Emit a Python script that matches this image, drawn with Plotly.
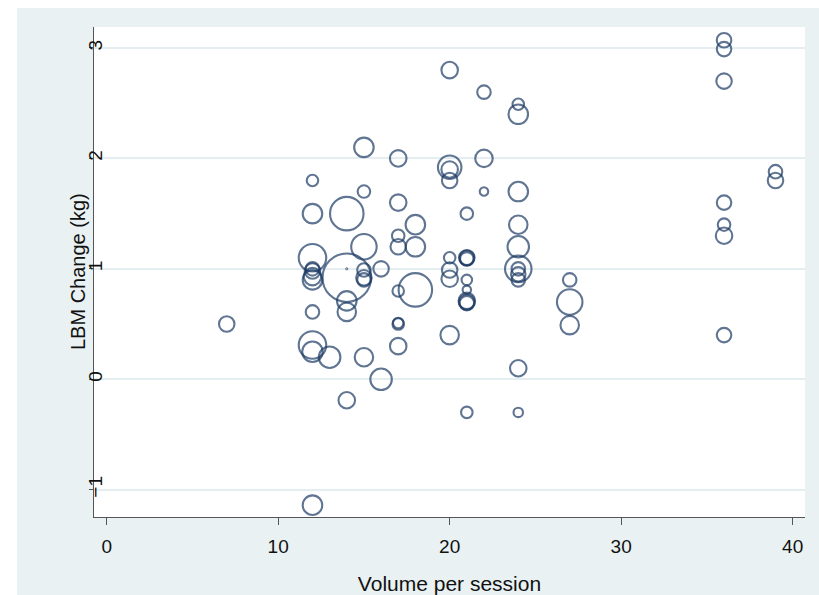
import numpy as np
import plotly.graph_objects as go

# ---- data ----
volume = [7,
          12, 12, 12, 12, 12, 12, 12, 12, 12, 12, 12,
          13,
          14, 14, 14, 14, 14, 14,
          15, 15, 15, 15, 15, 15, 15,
          16, 16,
          17, 17, 17, 17, 17, 17, 17, 17,
          18, 18, 18,
          20, 20, 20, 20, 20, 20, 20, 20,
          21, 21, 21, 21, 21, 21, 21, 21, 21, 21,
          22, 22, 22,
          24, 24, 24, 24, 24, 24, 24, 24, 24, 24, 24,
          27, 27, 27,
          36, 36, 36, 36, 36, 36, 36,
          39, 39]
lbm_change = [0.50,
              1.80, 1.50, 1.10, 1.00, 0.98, 0.93, 0.90, 0.61, 0.31, 0.25, -1.14,
              0.20,
              1.50, 0.92, 1.00, 0.71, 0.61, -0.19,
              2.10, 1.70, 1.20, 0.99, 0.92, 0.90, 0.20,
              1.00, 0.00,
              2.00, 1.60, 1.30, 1.20, 0.80, 0.50, 0.51, 0.30,
              1.40, 1.20, 0.81,
              2.80, 1.92, 1.90, 1.80, 1.10, 0.99, 0.91, 0.40,
              1.50, 1.10, 1.10, 1.09, 0.90, 0.81, 0.71, 0.70, 0.69, -0.30,
              2.60, 2.00, 1.70,
              2.49, 2.40, 1.70, 1.40, 1.20, 1.00, 1.00, 0.95, 0.90, 0.10, -0.30,
              0.90, 0.70, 0.49,
              3.07, 2.99, 2.70, 1.60, 1.40, 1.30, 0.40,
              1.88, 1.80]
weight = [26.7,
          14.7, 42.3, 84.0, 20.3, 26.7, 34.0, 42.3, 20.3, 84.0, 46.7, 42.3,
          51.4,
          124.7, 261.4, 0.1, 42.3, 38.0, 30.3,
          42.3, 17.4, 72.3, 20.3, 26.7, 20.3, 38.0,
          26.7, 51.4,
          30.3, 30.3, 17.4, 26.7, 14.7, 14.7, 12.3, 30.3,
          42.3, 42.3, 124.7,
          30.3, 61.4, 30.3, 26.7, 14.7, 26.7, 30.3, 38.0,
          17.4, 26.7, 23.4, 20.3, 12.3, 8.0, 30.3, 26.7, 23.4, 14.7,
          20.3, 34.0, 8.0,
          14.7, 42.3, 42.3, 38.0, 51.4, 78.0, 20.3, 23.4, 20.3, 30.3, 10.0,
          20.3, 72.3, 38.0,
          23.4, 23.4, 26.7, 23.4, 17.4, 30.3, 23.4,
          20.3, 26.7]

x_ticks = [0, 10, 20, 30, 40]
y_ticks = [-1, 0, 1, 2, 3]
x_title = "Volume per session"
y_title = "LBM Change (kg)"

# ---- styling ----
W, H = 819, 595
ML, MR, MT, MB = 94, 14, 27, 78
PW, PH = W - ML - MR, H - MT - MB
NAVY = "#1c3b64"
OUTER = "#e9f1f3"
FONT = "Liberation Sans, Arial, sans-serif"

sizes = 3 * np.sqrt(np.array(weight))

fig = go.Figure(go.Scatter(
    x=volume, y=lbm_change, mode="markers",
    marker=dict(symbol="circle-open", size=sizes, sizemode="diameter",
                color=NAVY, line=dict(width=2.1, color=NAVY)),
    hoverinfo="x+y", showlegend=False,
))


def px_x(p):
    return (p - ML) / PW


def px_y(p):
    return (H - MB - p) / PH


shapes = [
    # white strips on the left and top (crop remnants of the original image)
    dict(type="rect", xref="paper", yref="paper", x0=px_x(-5), x1=px_x(17),
         y0=px_y(H + 5), y1=px_y(-5), fillcolor="white", line=dict(width=0), layer="above"),
    dict(type="rect", xref="paper", yref="paper", x0=px_x(-5), x1=px_x(W + 5),
         y0=px_y(8), y1=px_y(-5), fillcolor="white", line=dict(width=0), layer="above"),
]

annotations = [
    dict(text=y_title, xref="paper", yref="paper", x=px_x(78), y=px_y(272),
         xanchor="center", yanchor="middle", textangle=-90, showarrow=False,
         font=dict(size=20, family=FONT, color="#111111")),
]

fig.update_layout(
    width=W, height=H,
    margin=dict(l=ML, r=MR, t=MT, b=MB, pad=0, autoexpand=False),
    paper_bgcolor=OUTER, plot_bgcolor="white",
    font=dict(family=FONT, color="#111111"),
    shapes=shapes, annotations=annotations,
    xaxis=dict(range=[-0.74, 40.72], tickvals=x_ticks, ticks="outside", ticklen=7,
               tickwidth=1, tickcolor="#555555", showline=True, linecolor="#555555",
               linewidth=1, showgrid=False, zeroline=False, ticklabelstandoff=5,
               automargin=False,
               tickfont=dict(size=19, family=FONT, color="#111111"),
               title=dict(text=x_title, font=dict(size=21, family=FONT, color="#111111"),
                          standoff=24)),
    yaxis=dict(range=[-1.247, 3.19], tickvals=y_ticks, ticks="outside", ticklen=4,
               tickwidth=1, tickcolor="#555555", showline=True, linecolor="#555555",
               linewidth=1, showgrid=True, gridcolor="#e4eef1", gridwidth=1.5,
               zeroline=False, tickangle=-90, ticklabelstandoff=-21,
               automargin=False,
               tickfont=dict(size=19, family=FONT, color="#111111")),
)

fig.write_html("out.html",
               config={"displayModeBar": False},
               post_script="document.body.style.margin='0';"
                           "document.body.style.overflow='hidden';")
